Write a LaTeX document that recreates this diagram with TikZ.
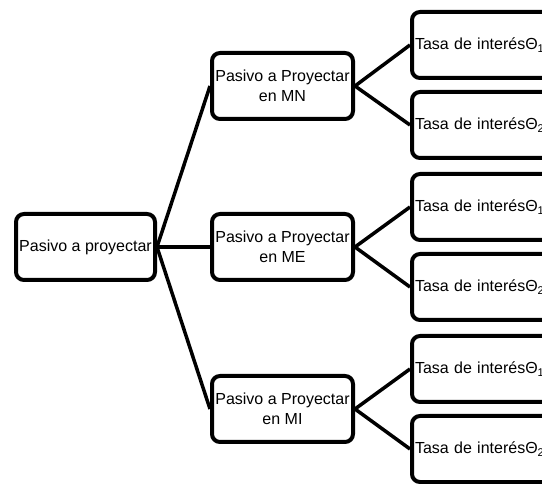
\documentclass[tikz,border=0pt]{standalone}
\usepackage{fontspec}
\setmainfont{Liberation Sans}
\begin{document}
\begin{tikzpicture}[x=1pt,y=1pt,
  box/.style={draw=black, line width=4pt, rounded corners=8pt, fill=white,
    minimum height=66pt, inner sep=2pt, align=center,
    font=\fontsize{16}{20}\selectfont},
  rootbox/.style={box, minimum width=139pt},
  midbox/.style={box, minimum width=141pt},
  leafbox/.style={box, text width=142pt, inner xsep=3pt, align=left},
  link/.style={draw=black, line width=3.5pt, line join=round}]
\useasboundingbox (0,0) rectangle (542,483);
\clip (0,0) rectangle (542,483);

% first level
\node[rootbox] (root) at (85.5,236) {Pasivo a proyectar};

% second level
\node[midbox] (mn) at (282.5,397) {Pasivo a Proyectar\\en MN};
\node[midbox] (me) at (282.5,236) {Pasivo a Proyectar\\en ME};
\node[midbox] (mi) at (282.5,74) {Pasivo a Proyectar\\en MI};

% third level
\node[leafbox, anchor=west] (mn1) at (410,438) {Tasa de interésΘ\textsubscript{1}};
\node[leafbox, anchor=west] (mn2) at (410,358) {Tasa de interésΘ\textsubscript{2}};
\node[leafbox, anchor=west] (me1) at (410,276) {Tasa de interésΘ\textsubscript{1}};
\node[leafbox, anchor=west] (me2) at (410,196) {Tasa de interésΘ\textsubscript{2}};
\node[leafbox, anchor=west] (mi1) at (410,114) {Tasa de interésΘ\textsubscript{1}};
\node[leafbox, anchor=west] (mi2) at (410,34) {Tasa de interésΘ\textsubscript{2}};

% connectors
\draw[link] (root.east) -- (mn.west);
\draw[link] (root.east) -- (me.west);
\draw[link] (root.east) -- (mi.west);
\draw[link] (mn.east) -- (mn1.west);
\draw[link] (mn.east) -- (mn2.west);
\draw[link] (me.east) -- (me1.west);
\draw[link] (me.east) -- (me2.west);
\draw[link] (mi.east) -- (mi1.west);
\draw[link] (mi.east) -- (mi2.west);
\end{tikzpicture}
\end{document}
